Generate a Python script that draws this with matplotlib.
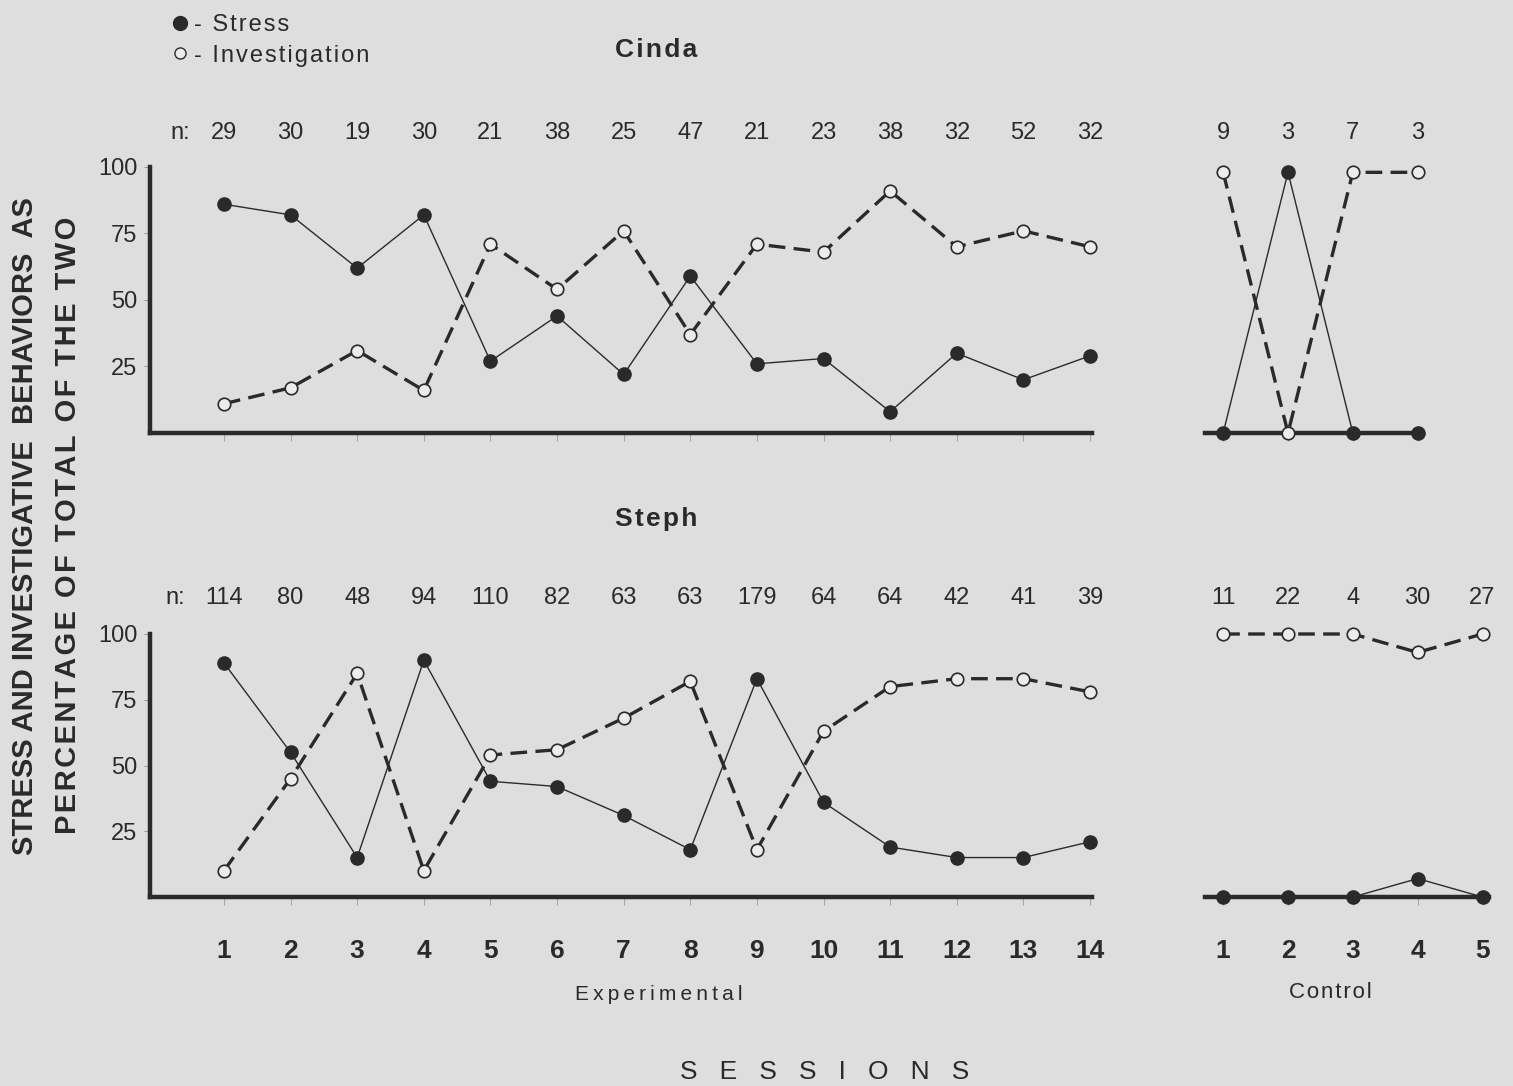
import matplotlib
matplotlib.use("Agg")
from matplotlib import pyplot as plt
from matplotlib.lines import Line2D
import numpy as np

# data
exp_sessions = list(range(1, 15))
ctl_sessions = list(range(1, 6))

cinda_n = [29, 30, 19, 30, 21, 38, 25, 47, 21, 23, 38, 32, 52, 32]
cinda_stress = [86, 82, 62, 82, 27, 44, 22, 59, 26, 28, 8, 30, 20, 29]
cinda_invest = [11, 17, 31, 16, 71, 54, 76, 37, 71, 68, 91, 70, 76, 70]
cinda_ctl_n = [9, 3, 7, 3]
cinda_ctl_stress = [0, 98, 0, 0]
cinda_ctl_invest = [98, 0, 98, 98]

steph_n = [114, 80, 48, 94, 110, 82, 63, 63, 179, 64, 64, 42, 41, 39]
steph_stress = [89, 55, 15, 90, 44, 42, 31, 18, 83, 36, 19, 15, 15, 21]
steph_invest = [10, 45, 85, 10, 54, 56, 68, 82, 18, 63, 80, 83, 83, 78]
steph_ctl_n = [11, 22, 4, 30, 27]
steph_ctl_stress = [0, 0, 0, 7, 0]
steph_ctl_invest = [100, 100, 100, 93, 100]

BG = '#dedede'
INK = '#2a2a2a'
FONT = ['Liberation Sans', 'DejaVu Sans']
plt.rcParams['font.family'] = FONT
plt.rcParams['text.color'] = INK

W, H = 1513, 1086
fig = plt.figure(figsize=(W / 100, H / 100), dpi=100)
fig.patch.set_facecolor(BG)


def box(x0, x1, ytop, ybot):
    # pixel box -> figure fraction
    return [x0 / W, 1 - ybot / H, (x1 - x0) / W, (ybot - ytop) / H]


def spaced(s):
    # loose letter spacing like the typeset original
    return '\u200a'.join(s)


def stress_line(ax, x, y):
    ax.plot(x, y, color=INK, lw=1.0, marker='o', ms=9.5, mfc=INK, mec=INK,
            clip_on=False, zorder=3)


def invest_line(ax, x, y):
    ax.plot(x, y, color=INK, lw=2.4, ls=(0, (5, 2.5)), marker='o', ms=9,
            mfc='#ececec', mec=INK, mew=1.2, clip_on=False, zorder=4)


def style_axes(ax, xlim, left_spine=True, bounds=None, show_labels=False):
    ax.set_facecolor('none')
    ax.set_xlim(*xlim)
    ax.set_ylim(0, 100)
    for s in ['top', 'right']:
        ax.spines[s].set_visible(False)
    ax.spines['bottom'].set_linewidth(3.2)
    ax.spines['bottom'].set_color(INK)
    if bounds is not None:
        ax.spines['bottom'].set_bounds(*bounds)
    if left_spine:
        ax.spines['left'].set_linewidth(3.2)
        ax.spines['left'].set_color(INK)
        ax.set_yticks([25, 50, 75, 100])
        ax.set_yticklabels(['25', '50', '75', '100'], fontsize=17)
        ax.tick_params(axis='y', length=4, width=0.6, color='#888888',
                       pad=5, labelcolor=INK)
    else:
        ax.spines['left'].set_visible(False)
        ax.set_yticks([])
    ax.tick_params(axis='x', length=6, width=0.6, color='#999999',
                   pad=24, labelsize=19, labelcolor=INK)
    if not show_labels:
        ax.tick_params(axis='x', labelbottom=False)


def n_row(ax, xs, ns, yfrac):
    tr = ax.get_xaxis_transform()
    for x, n in zip(xs, ns):
        ax.text(x, yfrac, str(n), transform=tr, ha='center', va='center',
                fontsize=17)


exp_xlim = (-0.11, 14.03)
ctl_xlim = (0.72, 5.1)

# Cinda
ax1 = fig.add_axes(box(150, 1092, 167, 433))
stress_line(ax1, exp_sessions, cinda_stress)
invest_line(ax1, exp_sessions, cinda_invest)
style_axes(ax1, exp_xlim)
ax1.set_xticks(exp_sessions)
n_row(ax1, exp_sessions, cinda_n, 1.128)
ax1.text(0.35, 1.128, 'n:', transform=ax1.get_xaxis_transform(),
         ha='center', va='center', fontsize=17)

ax2 = fig.add_axes(box(1205, 1489, 167, 433))
stress_line(ax2, ctl_sessions[:4], cinda_ctl_stress)
invest_line(ax2, ctl_sessions[:4], cinda_ctl_invest)
style_axes(ax2, ctl_xlim, left_spine=False, bounds=(0.72, 4.05))
ax2.set_xticks(ctl_sessions[:4])
n_row(ax2, ctl_sessions[:4], cinda_ctl_n, 1.128)

# Steph
ax3 = fig.add_axes(box(150, 1092, 634, 897))
stress_line(ax3, exp_sessions, steph_stress)
invest_line(ax3, exp_sessions, steph_invest)
style_axes(ax3, exp_xlim, show_labels=True)
ax3.set_xticks(exp_sessions)
ax3.set_xticklabels([str(s) for s in exp_sessions], fontweight='bold')
n_row(ax3, exp_sessions, steph_n, 1.137)
ax3.text(0.27, 1.137, 'n:', transform=ax3.get_xaxis_transform(),
         ha='center', va='center', fontsize=17)

ax4 = fig.add_axes(box(1205, 1489, 634, 897))
stress_line(ax4, ctl_sessions, steph_ctl_stress)
invest_line(ax4, ctl_sessions, steph_ctl_invest)
style_axes(ax4, ctl_xlim, left_spine=False, show_labels=True)
ax4.set_xticks(ctl_sessions)
ax4.set_xticklabels([str(s) for s in ctl_sessions], fontweight='bold')
n_row(ax4, ctl_sessions, steph_ctl_n, 1.137)

# titles and labels
fig.text(656 / W, 1 - 50 / H, spaced('Cinda'), ha='center', va='center',
         fontsize=19, fontweight='bold')
fig.text(656 / W, 1 - 519 / H, spaced('Steph'), ha='center', va='center',
         fontsize=19, fontweight='bold')
fig.text(659 / W, 1 - 995 / H, 'E x p e r i m e n t a l'.replace(' ', '\u2009'),
         ha='center', va='center', fontsize=15)
fig.text(1330 / W, 1 - 993 / H, spaced('Control'), ha='center', va='center',
         fontsize=16)
fig.text(825 / W, 1 - 1072 / H, 'S   E   S   S   I   O   N   S',
         ha='center', va='center', fontsize=19)

ylab_font = ['Liberation Sans Narrow', 'Liberation Sans', 'DejaVu Sans']
fig.text(25 / W, 1 - 526 / H, 'STRESS AND INVESTIGATIVE  BEHAVIORS  AS',
         rotation=90, ha='center', va='center', fontsize=21,
         fontweight='bold', family=ylab_font)
fig.text(68 / W, 1 - 525 / H, spaced('PERCENTAGE OF TOTAL OF THE TWO'),
         rotation=90, ha='center', va='center', fontsize=21,
         fontweight='bold', family=ylab_font)

# legend
handles = [Line2D([], [], ls='none', marker='o', ms=10, mfc=INK, mec=INK),
           Line2D([], [], ls='none', marker='o', ms=8, mfc='#ececec',
                  mec=INK, mew=1.0)]
fig.legend(handles, [spaced('- Stress'), spaced('- Investigation')],
           loc='upper left', bbox_to_anchor=(159 / W, 1 - 5 / H),
           frameon=False, fontsize=17, handletextpad=0.1, handlelength=1.0,
           labelspacing=0.35, borderaxespad=0)

fig.savefig('out.png', dpi=100, facecolor=BG)
